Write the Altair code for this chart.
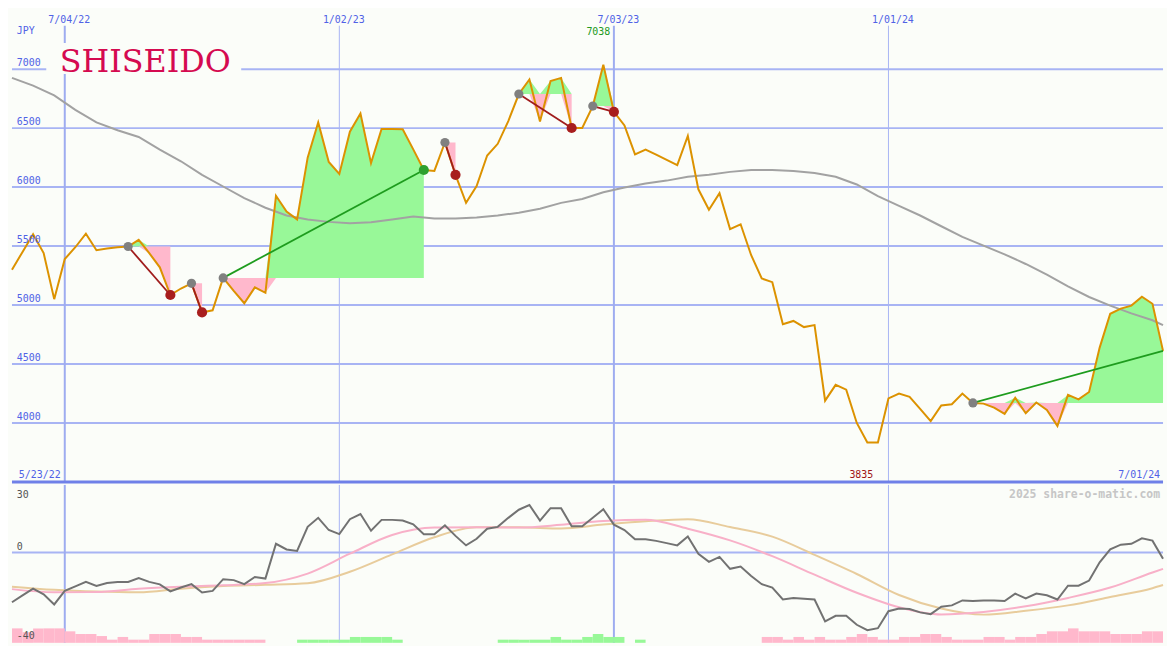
import altair as alt
import pandas as pd

# ---------------- data (weekly) ----------------
START_DATE = "2022-05-30"

price = [5300, 5450, 5600, 5440, 5050, 5390, 5490, 5605, 5465, 5480,
         5490, 5496, 5553, 5440, 5320, 5085, 5140, 5184, 4937, 4955,
         5230, 5120, 5015, 5150, 5104, 5926, 5792, 5726, 6250, 6548,
         6213, 6112, 6470, 6624, 6203, 6493, 6493, 6490, 6320, 6145,
         6137, 6378, 6104, 5866, 6008, 6268, 6367, 6560, 6789, 6912,
         6556, 6900, 6926, 6501, 6501, 6687, 7038, 6638, 6523, 6277,
         6318, 6275, 6230, 6186, 6433, 5981, 5808, 5948, 5644, 5685,
         5422, 5225, 5194, 4838, 4865, 4813, 4830, 4189, 4323, 4282,
         4000, 3835, 3835, 4208, 4249, 4222, 4120, 4016, 4148, 4159,
         4249, 4170, 4164, 4130, 4077, 4214, 4082, 4173, 4110, 3975,
         4238, 4200, 4263, 4639, 4926, 4970, 4995, 5071, 5011, 4611]

ma_weeks = list(range(0, 109, 2)) + [109]
ma_vals = [6926, 6860, 6778, 6655, 6548, 6482, 6425, 6318, 6219, 6104,
           6005, 5907, 5825, 5759, 5726, 5705, 5693, 5701, 5726, 5750,
           5734, 5734, 5742, 5759, 5783, 5816, 5866, 5899, 5956, 5997,
           6030, 6055, 6088, 6104, 6129, 6145, 6145, 6137, 6120, 6088,
           6022, 5923, 5841, 5759, 5668, 5578, 5504, 5430, 5348, 5257,
           5159, 5068, 4995, 4929, 4871, 4830]

osc = [-22, -19, -16, -18.5, -23, -17, -15, -13, -14.8, -13.5,
       -13, -13, -11.3, -13, -14.1, -17.2, -15.5, -14, -17.7, -17,
       -11.8, -12.2, -14, -10.8, -11.5, 3.9, 1.4, 0.7, 11.4, 15.4,
       10, 8.2, 14.8, 17.1, 9.7, 14.5, 14.5, 14.2, 12.5, 8.1,
       8.1, 12.1, 7.4, 3.2, 6.1, 10.6, 11.4, 15.4, 19, 21.1,
       14.2, 19.7, 19.7, 11.7, 11.7, 15.4, 19.2, 12.4, 10, 5.9,
       5.9, 5.2, 4.2, 3.2, 7.1, -0.5, -4.1, -1.9, -7.2, -6.2,
       -10.4, -14, -15.5, -20.8, -20.1, -20.5, -20.8, -30.5, -28, -28,
       -32, -34.4, -33.5, -26, -24.8, -25, -26.5, -27.3, -24, -23.4,
       -21.2, -21.5, -21.2, -21.2, -21.5, -18.2, -20.3, -18.2, -18.9, -20.8,
       -14.7, -14.7, -12.4, -4.3, 1.4, 3.5, 3.9, 6.3, 5.3, -2.7]

slow_weeks = list(range(0, 109, 4)) + [109]
osc_pink = [-16.2, -17.6, -17.5, -16.0, -15.1, -14.5, -13.5, -9.3, -0.5, 7.8,
            11.1, 11.2, 11.1, 12.3, 14.0, 14.6, 10.6, 5.4, -1.6, -9.8,
            -17.8, -24.2, -27.4, -26.3, -23.8, -20.1, -15.5, -8.8, -7.2]
osc_tan = [-15.1, -16.5, -17.3, -17.6, -16.0, -14.8, -14.3, -13.6, -8.5, -0.8,
           6.8, 11.2, 11.2, 10.7, 12.4, 13.9, 14.8, 11.3, 7.1, -1.0,
           -9.5, -18.8, -24.8, -27.5, -25.8, -23.4, -19.7, -15.8, -14.4]

hist = [-6.4, -4.7, -6.4, -6.4, -6.4, -5.1, -3.9, -3.9, -3.0, -1.4,
        -2.6, -1.4, -1.4, -3.9, -3.9, -3.9, -2.6, -2.6, -1.4, -1.4,
        -1.4, -1.4, -1.4, -1.4, 0, 0, 0, 1.4, 1.4, 1.4,
        1.4, 1.4, 2.6, 2.6, 2.6, 2.6, 1.4, 0, 0, 0,
        0, 0, 0, 0, 0, 0, 1.4, 1.4, 1.4, 1.4,
        1.4, 2.6, 1.4, 1.4, 2.6, 3.9, 2.6, 2.6, 0, 1.4,
        0, 0, 0, 0, 0, 0, 0, 0, 0, 0,
        0, -2.6, -2.6, -1.4, -2.6, -1.4, -2.6, -1.4, -1.4, -2.6,
        -3.9, -2.6, -1.4, -1.4, -2.6, -2.6, -3.9, -3.9, -2.6, -1.4,
        -1.4, -1.4, -2.6, -2.6, -1.4, -2.6, -2.6, -3.9, -5.1, -5.1,
        -6.4, -5.1, -5.1, -5.1, -3.9, -3.9, -3.9, -5.1, -5.1, 0]

sig_start = [11, 17, 20, 41, 48, 55, 91]
sig_end = [15, 18, 39, 42, 53, 57, 109]
sig_dir = ["down", "down", "up", "down", "down", "down", "up"]
sig_open = [False, False, False, False, False, False, True]

price_ticks = [4000, 4500, 5000, 5500, 6000, 6500, 7000]
osc_ticks = [30, 0, -40]
grid_dates = ["2022-07-04", "2023-01-02", "2023-07-03", "2024-01-01"]
grid_labels = ["7/04/22", "1/02/23", "7/03/23", "1/01/24"]
grid_major = [True, False, True, False]
range_labels = ["5/23/22", "7/01/24"]
company = "SHISEIDO"
currency = "JPY"
watermark = "2025 share-o-matic.com"

# ---------------- layout / style ----------------
W, HP, HO = 1159, 475, 159
SX = W / 1175.0
SY = (HP + HO) / 650.0
BG = "#fbfdf9"
GRID = "#a8b4f4"
VMAJ = "#9eacf0"
SEP = "#6f80e8"
LBL = "#5062e6"
MONO = "DejaVu Sans Mono"
PINKF = "#ffb8cc"
GREENF = "#98f898"

# ---------------- tables ----------------
dates = pd.date_range(START_DATE, periods=len(price), freq="7D")
main = pd.DataFrame({"date": dates, "price": price, "osc": osc, "hist": hist})
main["next"] = main["date"] + pd.Timedelta(days=7)
ma = pd.DataFrame({"date": dates[ma_weeks], "ma": ma_vals})
slow = pd.DataFrame({"date": dates[slow_weeks], "pink": osc_pink, "tan": osc_tan})
grid = pd.DataFrame({"date": pd.to_datetime(grid_dates), "label": grid_labels, "major": grid_major})

fill_rows, line_rows, start_rows, end_rows = [], [], [], []
for i, (s, e, d, op) in enumerate(zip(sig_start, sig_end, sig_dir, sig_open)):
    lvl = price[s]
    for k in range(s, e + 1):
        fill_rows.append({"sig": i, "date": dates[k], "price": price[k], "level": lvl})
    line_rows.append({"sig": i, "date": dates[s], "v": lvl, "dir": d})
    line_rows.append({"sig": i, "date": dates[e], "v": price[e], "dir": d})
    start_rows.append({"date": dates[s], "v": lvl})
    if not op:
        end_rows.append({"date": dates[e], "v": price[e], "dir": d})
fills = pd.DataFrame(fill_rows)
slines = pd.DataFrame(line_rows)
starts = pd.DataFrame(start_rows)
ends = pd.DataFrame(end_rows)

imax = price.index(max(price))
imin = price.index(min(price))
hi_df = pd.DataFrame({"date": [dates[imax]], "t": [str(price[imax])]})
lo_df = pd.DataFrame({"date": [dates[imin]], "t": [str(price[imin])]})

xs = alt.Scale(domain=[alt.DateTime(year=2022, month=5, date=30),
                       alt.DateTime(year=2024, month=7, date=1)], nice=False)
yps = alt.Scale(domain=[3500, 7500], nice=False, zero=False)
yos = alt.Scale(domain=[-40, 30], nice=False, zero=False)


def X(f="date"):
    return alt.X(f"{f}:T", scale=xs, axis=None)


def YP(f):
    return alt.Y(f"{f}:Q", scale=yps, axis=None)


def YO(f):
    return alt.Y(f"{f}:Q", scale=yos, axis=None)


def one(text):
    return alt.Chart(pd.DataFrame({"t": [text]}))


# ---------------- price panel ----------------
hgrid = alt.Chart(pd.DataFrame({"v": price_ticks})).mark_rule(color=GRID, strokeWidth=2).encode(y=YP("v"))
vmaj = alt.Chart(grid[grid.major]).mark_rule(color=VMAJ, strokeWidth=2).encode(
    x=X(), y=alt.value(16 * SY), y2=alt.value(HP))
vmin = alt.Chart(grid[~grid.major]).mark_rule(color=GRID, strokeWidth=1).encode(
    x=X(), y=alt.value(16 * SY), y2=alt.value(HP))
sep = alt.Chart(pd.DataFrame({"v": [3500]})).mark_rule(color=SEP, strokeWidth=3).encode(y=YP("v"))

fbase = alt.Chart(fills).transform_calculate(
    hi="max(datum.price, datum.level)", lo="min(datum.price, datum.level)")
gfill = fbase.mark_area(color=GREENF, opacity=1).encode(x=X(), y=YP("hi"), y2="level:Q", detail="sig:N")
pfill = fbase.mark_area(color=PINKF, opacity=1).encode(x=X(), y=YP("lo"), y2="level:Q", detail="sig:N")

maline = alt.Chart(ma).mark_line(color="#a2a2a2", strokeWidth=2).encode(x=X(), y=YP("ma"))
pline = alt.Chart(main).mark_line(color="#dc9200", strokeWidth=2).encode(x=X(), y=YP("price"))
sig_down = alt.Chart(slines[slines.dir == "down"]).mark_line(strokeWidth=1.8, color="#a01c1c").encode(
    x=X(), y=YP("v"), detail="sig:N")
sig_up = alt.Chart(slines[slines.dir == "up"]).mark_line(strokeWidth=1.8, color="#1e9c1e").encode(
    x=X(), y=YP("v"), detail="sig:N")
sdots = alt.Chart(starts).mark_circle(size=85, color="#808080", opacity=1).encode(x=X(), y=YP("v"))
edots_down = alt.Chart(ends[ends.dir == "down"]).mark_circle(size=105, opacity=1, color="#a81e1e").encode(
    x=X(), y=YP("v"))
edots_up = alt.Chart(ends[ends.dir == "up"]).mark_circle(size=105, opacity=1, color="#2ea02e").encode(
    x=X(), y=YP("v"))

logo_box = one("").mark_rect(color=BG).encode(
    x=alt.value(35 * SX), x2=alt.value(234 * SX), y=alt.value(34 * SY), y2=alt.value(66 * SY))
logo = one(company).mark_text(font="DejaVu Serif", fontSize=32, color="#d50a50",
                              align="center", baseline="alphabetic").encode(
    x=alt.value(136 * SX), y=alt.value(64 * SY), text="t:N")

plabels = alt.Chart(pd.DataFrame({"v": price_ticks, "t": [str(v) for v in price_ticks]})).mark_text(
    font=MONO, fontSize=10, color=LBL, align="left", baseline="alphabetic", dy=-3).encode(
    x=alt.value(5 * SX), y=YP("v"), text="t:N")
jpy = one(currency).mark_text(font=MONO, fontSize=10, color=LBL, align="left", baseline="alphabetic").encode(
    x=alt.value(5 * SX), y=alt.value(25 * SY), text="t:N")
dlabels = alt.Chart(grid).mark_text(font=MONO, fontSize=10, color=LBL, align="center",
                                    baseline="alphabetic", dx=4.5).encode(
    x=X(), y=alt.value(13.5 * SY), text="label:N")
lft = one(range_labels[0]).mark_text(font=MONO, fontSize=10, color=LBL, align="left", baseline="alphabetic").encode(
    x=alt.value(7 * SX), y=alt.value(483 * SY), text="t:N")
rgt = one(range_labels[1]).mark_text(font=MONO, fontSize=10, color=LBL, align="right", baseline="alphabetic").encode(
    x=alt.value(1172 * SX), y=alt.value(483 * SY), text="t:N")
hi_t = alt.Chart(hi_df).mark_text(font=MONO, fontSize=10, color="#229a22", align="right",
                                  baseline="alphabetic", dx=7).encode(x=X(), y=alt.value(26 * SY), text="t:N")
lo_t = alt.Chart(lo_df).mark_text(font=MONO, fontSize=10, color="#a01414", align="right",
                                  baseline="alphabetic", dx=6).encode(x=X(), y=alt.value(483 * SY), text="t:N")

price_panel = alt.layer(hgrid, vmaj, vmin, gfill, pfill, maline, pline, sig_down, sig_up, sdots,
                        edots_down, edots_up, logo_box, logo, plabels, jpy, dlabels, lft, rgt,
                        hi_t, lo_t, sep).properties(width=W, height=HP)

# ---------------- oscillator panel ----------------
zgrid = alt.Chart(pd.DataFrame({"v": [0]})).mark_rule(color=GRID, strokeWidth=2).encode(y=YO("v"))
ovmaj = alt.Chart(grid[grid.major]).mark_rule(color=VMAJ, strokeWidth=2).encode(
    x=X(), y=alt.value(0), y2=alt.value(HO))
ovmin = alt.Chart(grid[~grid.major]).mark_rule(color=GRID, strokeWidth=1).encode(
    x=X(), y=alt.value(0), y2=alt.value(HO))
bbase = alt.Chart(main).transform_calculate(top="-40 + abs(datum.hist)")
bars_neg = bbase.transform_filter("datum.hist < 0").mark_rect(color=PINKF).encode(
    x=X(), x2="next:T", y=YO("top"), y2=alt.value(HO))
bars_pos = bbase.transform_filter("datum.hist > 0").mark_rect(color=GREENF).encode(
    x=X(), x2="next:T", y=YO("top"), y2=alt.value(HO))
tanl = alt.Chart(slow).mark_line(color="#e8cc9c", strokeWidth=2, interpolate="monotone").encode(x=X(), y=YO("tan"))
pinkl = alt.Chart(slow).mark_line(color="#f8b0c8", strokeWidth=2, interpolate="monotone").encode(x=X(), y=YO("pink"))
oscl = alt.Chart(main).mark_line(color="#727272", strokeWidth=2).encode(x=X(), y=YO("osc"))

oticks = pd.DataFrame({"v": osc_ticks, "t": [str(v) for v in osc_ticks]})
olab_top = alt.Chart(oticks[oticks.v == 30]).mark_text(font=MONO, fontSize=10, color="#555555", align="left",
                                                     baseline="alphabetic", dy=12.7).encode(
    x=alt.value(5 * SX), y=YO("v"), text="t:N")
olab_mid = alt.Chart(oticks[oticks.v == 0]).mark_text(font=MONO, fontSize=10, color="#555555", align="left",
                                                    baseline="alphabetic", dy=-2.7).encode(
    x=alt.value(5 * SX), y=YO("v"), text="t:N")
olab_bot = alt.Chart(oticks[oticks.v == -40]).mark_text(font=MONO, fontSize=10, color="#555555", align="left",
                                                      baseline="alphabetic", dy=-3.5).encode(
    x=alt.value(5 * SX), y=YO("v"), text="t:N")
wm = one(watermark).mark_text(font=MONO, fontSize=11.5, fontWeight="bold", color="#c6c6c6",
                              align="right", baseline="alphabetic").encode(
    x=alt.value(1172 * SX), y=alt.value(13 * SY), text="t:N")

osc_panel = alt.layer(zgrid, ovmaj, ovmin, bars_neg, bars_pos, tanl, pinkl, oscl,
                      olab_top, olab_mid, olab_bot, wm).properties(width=W, height=HO)

chart = alt.vconcat(price_panel, osc_panel, spacing=0).configure_view(stroke=None).properties(
    background=BG, padding=0)

chart.save("out.html", embed_options={"renderer": "svg", "actions": False})
